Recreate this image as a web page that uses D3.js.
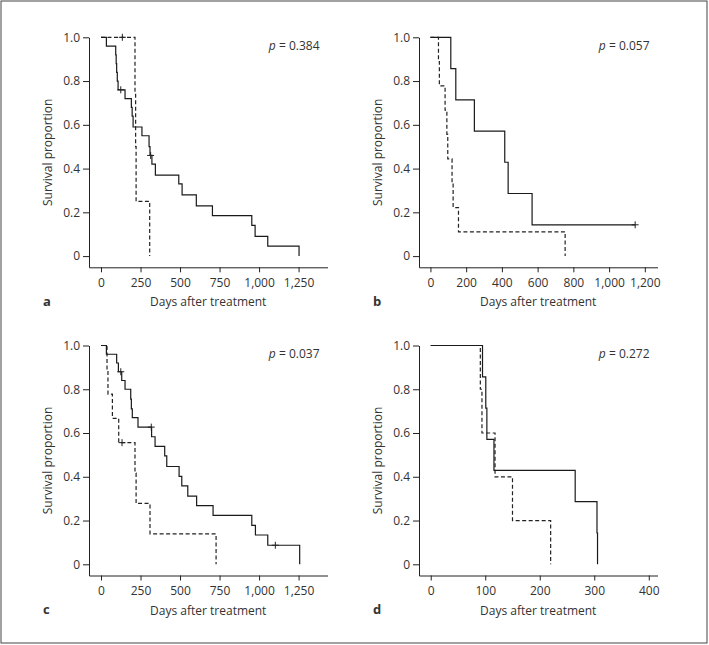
<!DOCTYPE html>
<html>
<head>
<meta charset="utf-8">
<script src="https://cdn.jsdelivr.net/npm/d3@7"></script>
<style>
  body { margin: 0; background: #fff; }
  svg text { font-family: "Open Sans", sans-serif; fill: #333; }
</style>
</head>
<body>
<div id="container"></div>
<script>
// survival curves: [day, proportion] steps, last point = end of curve
var aSolid = [[0,1],[34,0.96],[93,0.92],[96,0.88],[99,0.84],[103,0.80],[108,0.76],[152,0.72],[192,0.68],[197,0.64],[203,0.59],[259,0.55],[304,0.50],[310,0.46],[322,0.42],[344,0.37],[492,0.33],[513,0.28],[603,0.23],[705,0.185],[954,0.14],[975,0.09],[1055,0.046],[1253,0]];
var aDashed = [[0,1],[215,0.75],[219,0.5],[222,0.25],[308,0]];
var aSolidCens = [[125,0.76],[314,0.46]];
var aDashedCens = [[135,1]];

var bSolid = [[0,1],[114,0.857],[142,0.714],[246,0.571],[416,0.429],[435,0.286],[569,0.143],[1146,0.143]];
var bDashed = [[0,1],[45,0.889],[50,0.778],[82,0.667],[92,0.556],[97,0.444],[121,0.333],[127,0.222],[157,0.111],[754,0]];
var bSolidCens = [[1146,0.143]];
var bDashedCens = [];

var cSolid = [[0,1],[34,0.96],[99,0.92],[110,0.88],[131,0.84],[152,0.80],[188,0.755],[192,0.71],[198,0.67],[234,0.627],[320,0.583],[342,0.539],[403,0.496],[416,0.447],[494,0.402],[511,0.358],[549,0.312],[605,0.268],[709,0.224],[954,0.178],[977,0.134],[1055,0.087],[1257,0]];
var cDashed = [[0,1],[38,0.889],[44,0.778],[72,0.667],[112,0.556],[215,0.417],[222,0.278],[310,0.139],[728,0]];
var cSolidCens = [[125,0.88],[318,0.627],[1103,0.087]];
var cDashedCens = [[133,0.556]];

var dSolid = [[0,1],[95,0.857],[101,0.714],[103,0.571],[116,0.429],[265,0.286],[305,0.143],[306,0]];
var dDashed = [[0,1],[91,0.8],[94,0.6],[118,0.4],[150,0.2],[220,0]];
var dSolidCens = [];
var dDashedCens = [];

var xTicksLong = [0,250,500,750,1000,1250];
var xTicksB = [0,200,400,600,800,1000,1200];
var xTicksD = [0,100,200,300,400];
var yTicks = [0,0.2,0.4,0.6,0.8,1.0];
var pValues = ["0.384","0.057","0.037","0.272"];
var letters = ["a","b","c","d"];

var panels = [
  {left: 89,  top: 37.3,  xDom: [-76,1433], ticks: xTicksLong, solid: aSolid, dashed: aDashed, sc: aSolidCens, dc: aDashedCens},
  {left: 419, top: 37.3,  xDom: [-64,1271], ticks: xTicksB,    solid: bSolid, dashed: bDashed, sc: bSolidCens, dc: bDashedCens},
  {left: 89,  top: 345.5, xDom: [-76,1433], ticks: xTicksLong, solid: cSolid, dashed: cDashed, sc: cSolidCens, dc: cDashedCens},
  {left: 419, top: 345.5, xDom: [-21.5,416], ticks: xTicksD,   solid: dSolid, dashed: dDashed, sc: dSolidCens, dc: dDashedCens}
];

var W = 709, H = 645;
var plotW = 238.5, unitH = 218.8, axisGap = 230;

var svg = d3.select("#container").append("svg").attr("width", W).attr("height", H);

svg.append("rect").attr("x", 1).attr("y", 1).attr("width", 706).attr("height", 642)
  .attr("fill", "none").attr("stroke", "#444").attr("stroke-width", 1);

var fmtX = d3.format(",");
var fmtY = function(d) { return d === 0 ? "0" : d3.format(".1f")(d); };

panels.forEach(function(p, i) {
  var axisY = p.top + axisGap;
  var x = d3.scaleLinear().domain(p.xDom).range([p.left, p.left + plotW]);
  var y = d3.scaleLinear().domain([0, 1]).range([p.top + unitH, p.top]);
  var yAx = d3.scaleLinear().domain([y.invert(axisY), 1]).range([axisY, p.top]);

  var g = svg.append("g");

  var xg = g.append("g").attr("transform", "translate(0," + axisY + ")")
    .call(d3.axisBottom(x).tickValues(p.ticks).tickFormat(fmtX).tickSize(5).tickSizeOuter(0).tickPadding(6));
  var yg = g.append("g").attr("transform", "translate(" + p.left + ",0)")
    .call(d3.axisLeft(yAx).tickValues(yTicks).tickFormat(fmtY).tickSize(6).tickSizeOuter(0).tickPadding(3));
  [xg, yg].forEach(function(a) {
    a.selectAll("text").style("font-size", "12px").style("font-family", "Open Sans").attr("fill", "#333");
    a.selectAll("line, path").attr("stroke", "#222");
  });

  var line = d3.line().x(function(d) { return x(d[0]); }).y(function(d) { return y(d[1]); }).curve(d3.curveStepAfter);

  g.append("path").attr("d", line(p.dashed)).attr("fill", "none")
    .attr("stroke", "#222").attr("stroke-width", 1.2).attr("stroke-dasharray", "4,2.5");
  g.append("path").attr("d", line(p.solid)).attr("fill", "none")
    .attr("stroke", "#1a1a1a").attr("stroke-width", 1.2);

  // censor marks
  p.sc.concat(p.dc).forEach(function(c) {
    var cx = x(c[0]), cy = y(c[1]);
    g.append("line").attr("x1", cx).attr("x2", cx).attr("y1", cy - 3.5).attr("y2", cy + 3.5)
      .attr("stroke", "#222").attr("stroke-width", 1);
    g.append("line").attr("x1", cx - 3.5).attr("x2", cx + 3.5).attr("y1", cy).attr("y2", cy)
      .attr("stroke", "#222").attr("stroke-width", 1);
  });

  var pt = g.append("text").attr("x", p.left + plotW - 8).attr("y", p.top + 12.5)
    .attr("text-anchor", "end").style("font-size", "12px");
  pt.append("tspan").style("font-style", "italic").text("p");
  pt.append("tspan").text(" = " + pValues[i]);

  g.append("text").attr("transform", "translate(" + (p.left - 37) + "," + ((p.top + axisY) / 2) + ") rotate(-90)")
    .attr("text-anchor", "middle").style("font-size", "12px").text("Survival proportion");

  g.append("text").attr("x", p.left + plotW / 2).attr("y", axisY + 39)
    .attr("text-anchor", "middle").style("font-size", "12px").text("Days after treatment");

  g.append("text").attr("x", p.left - 46).attr("y", axisY + 38.5)
    .style("font-size", "13px").style("font-weight", "bold").text(letters[i]);
});
</script>
</body>
</html>
